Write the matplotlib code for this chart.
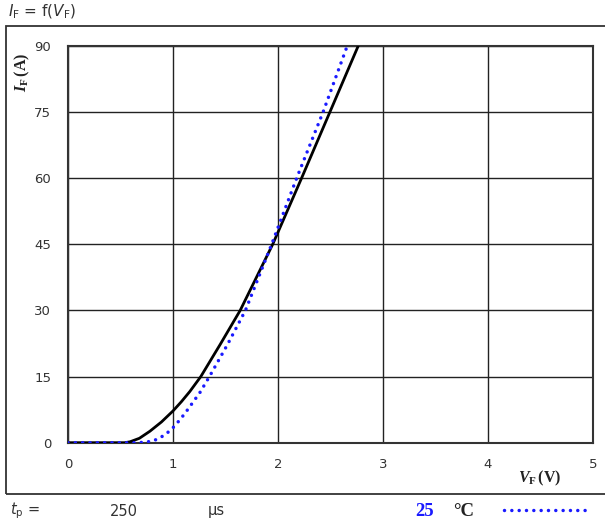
import numpy as np
import matplotlib
matplotlib.use('Agg')
import matplotlib.pyplot as plt
from matplotlib.patches import Rectangle

plt.rcParams.update({
    'font.family': 'DejaVu Sans',
    'font.size': 9.5,
    'mathtext.fontset': 'dejavusans',
    'mathtext.rm': 'Liberation Serif:bold',
    'mathtext.it': 'Liberation Serif:bold:italic',
    'mathtext.bf': 'Liberation Serif:bold',
})

# forward characteristic (V, A)
vf_black = [0.0, 0.54, 0.59, 0.68, 0.78, 0.89, 1.0, 1.08, 1.16, 1.265, 1.45, 1.64, 1.95, 2.225, 2.495, 2.765]
if_black = [0.0, 0.0, 0.2, 1.0, 2.6, 4.7, 7.2, 9.3, 11.6, 15.0, 22.3, 30.0, 45.0, 60.0, 75.0, 90.0]

vf_blue = [0.0, 0.65, 0.73, 0.81, 0.876, 0.94, 1.0, 1.07, 1.146, 1.257, 1.352, 1.52, 1.69, 1.94, 2.178, 2.43, 2.66]
if_blue = [0.0, 0.0, 0.1, 0.4, 1.1, 2.1, 3.4, 5.3, 7.7, 11.4, 15.2, 22.3, 30.0, 45.0, 60.0, 75.0, 90.0]

xticks = [0, 1, 2, 3, 4, 5]
yticks = [0, 15, 30, 45, 60, 75, 90]

W, H = 605, 526
BLUE = '#1a1aff'
DOTS = (0, (0.01, 2.1))

fig = plt.figure(figsize=(W / 100, H / 100), dpi=100)
fig.patch.set_facecolor('white')

# outer frame
fig.patches.append(Rectangle((6 / W, 1 - 494 / H), 1.0, (494 - 26) / H,
                             transform=fig.transFigure, fill=False,
                             edgecolor='#333333', linewidth=1.3))

ax = fig.add_axes([68 / W, 1 - 442.7 / H, 525 / W, 397 / H])
ax.plot(vf_black, if_black, '-', color='black', linewidth=2.0, zorder=3)
ax.plot(vf_blue, if_blue, linestyle=DOTS, color=BLUE, linewidth=2.5, zorder=4,
        dash_capstyle='round')

ax.set_xlim(0, 5)
ax.set_ylim(0, 90)
ax.set_xticks(xticks)
ax.set_yticks(yticks)
ax.grid(True, color='#222222', linewidth=1.0)
ax.tick_params(length=0, colors='#333333', labelsize=9.5)
ax.tick_params(axis='x', pad=11)
ax.tick_params(axis='y', pad=12)
for s in ax.spines.values():
    s.set_color('#333333')
    s.set_linewidth(1.5)

# axis labels (serif bold, via custom mathtext)
fig.text(22 / W, 1 - 72 / H, r'$I_{\mathrm{F}}\,\mathrm{(A)}$', rotation=90, ha='center', va='center',
         fontsize=11.5, color='#222222', math_fontfamily='custom')
fig.text(540 / W, 1 - 478 / H, r'$V_{\mathrm{F}}\,\mathrm{(V)}$', ha='center', va='center',
         fontsize=11.5, color='#222222', math_fontfamily='custom')

# title
fig.text(8 / W, 1 - 12 / H, r'$I_{\mathrm{F}}$ = f($V_{\mathrm{F}}$)', ha='left', va='center',
         fontsize=11, color='#333333')

# footer
fig.text(10 / W, 1 - 511 / H, r'$t_{\mathrm{p}}$ =', ha='left', va='center', fontsize=10.5, color='#333333')
fig.text(110 / W, 1 - 511 / H, '250', ha='left', va='center', fontsize=10.5, color='#333333')
fig.text(208 / W, 1 - 511 / H, 'μs', ha='left', va='center', fontsize=10.5, color='#333333')
fig.text(415 / W, 1 - 511 / H, '25', ha='left', va='center', fontsize=13.5, fontweight='bold',
         family='Liberation Serif', color=BLUE)
fig.text(453 / W, 1 - 511 / H, '°C', ha='left', va='center', fontsize=13.5, fontweight='bold',
         family='Liberation Serif', color='#222222')
fig.add_artist(plt.Line2D([504 / W, 590 / W], [1 - 510 / H, 1 - 510 / H], transform=fig.transFigure,
                          color=BLUE, linestyle=DOTS, linewidth=2.5, dash_capstyle='round'))

fig.savefig('out.png', dpi=100)
